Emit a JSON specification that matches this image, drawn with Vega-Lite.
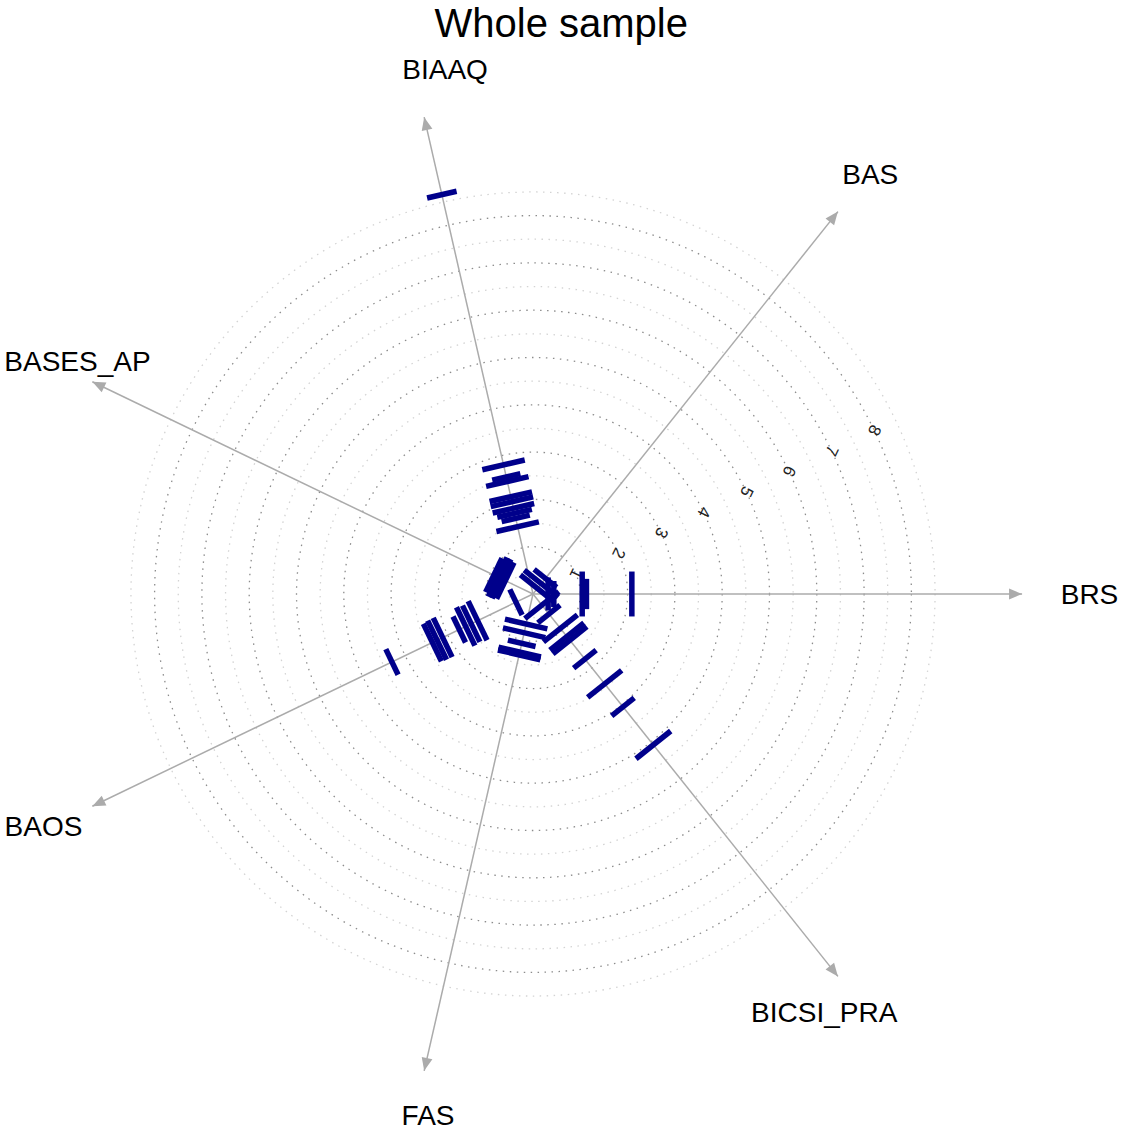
{
  "$schema": "https://vega.github.io/schema/vega-lite/v6.json",
  "width": 1042,
  "height": 1042,
  "autosize": {"type": "none"},
  "padding": {"left": 12, "top": 73, "right": 67, "bottom": 18},
  "background": "white",
  "config": {"view": {"stroke": null}, "font": "Liberation Sans"},
  "title": {
    "text": "Whole sample",
    "fontSize": 40,
    "fontWeight": "normal",
    "color": "#000000",
    "anchor": "middle",
    "frame": "bounds",
    "offset": 12
  },
  "datasets": {
    "spokes": [
      {"scale": "BRS", "k": 0},
      {"scale": "BAS", "k": 1},
      {"scale": "BIAAQ", "k": 2},
      {"scale": "BASES_AP", "k": 3},
      {"scale": "BAOS", "k": 4},
      {"scale": "FAS", "k": 5},
      {"scale": "BICSI_PRA", "k": 6}
    ],
    "rings": [
      {"r": 0.5, "kind": "minor"}, {"r": 1, "kind": "major"},
      {"r": 1.5, "kind": "minor"}, {"r": 2, "kind": "major"},
      {"r": 2.5, "kind": "minor"}, {"r": 3, "kind": "major"},
      {"r": 3.5, "kind": "minor"}, {"r": 4, "kind": "major"},
      {"r": 4.5, "kind": "minor"}, {"r": 5, "kind": "major"},
      {"r": 5.5, "kind": "minor"}, {"r": 6, "kind": "major"},
      {"r": 6.5, "kind": "minor"}, {"r": 7, "kind": "major"},
      {"r": 7.5, "kind": "minor"}, {"r": 8, "kind": "major"},
      {"r": 8.5, "kind": "minor"}
    ],
    "ticks": [
      {"scale": "BRS", "d": 0.32, "len": 0.70},
      {"scale": "BRS", "d": 0.44, "len": 0.55},
      {"scale": "BRS", "d": 1.04, "len": 0.95},
      {"scale": "BRS", "d": 1.13, "len": 0.64},
      {"scale": "BRS", "d": 2.09, "len": 0.95},
      {"scale": "BAS", "d": 0.15, "len": 0.92},
      {"scale": "BAS", "d": 0.28, "len": 0.92},
      {"scale": "BAS", "d": 0.42, "len": 0.61},
      {"scale": "BIAAQ", "d": 1.46, "len": 0.92},
      {"scale": "BIAAQ", "d": 1.64, "len": 0.61},
      {"scale": "BIAAQ", "d": 1.75, "len": 0.75},
      {"scale": "BIAAQ", "d": 1.86, "len": 0.90},
      {"scale": "BIAAQ", "d": 2.00, "len": 0.92},
      {"scale": "BIAAQ", "d": 2.11, "len": 0.92},
      {"scale": "BIAAQ", "d": 2.44, "len": 0.92},
      {"scale": "BIAAQ", "d": 2.54, "len": 0.61},
      {"scale": "BIAAQ", "d": 2.80, "len": 0.92},
      {"scale": "BIAAQ", "d": 8.66, "len": 0.64},
      {"scale": "BASES_AP", "d": 0.65, "len": 0.85},
      {"scale": "BASES_AP", "d": 0.74, "len": 0.92},
      {"scale": "BASES_AP", "d": 0.83, "len": 0.92},
      {"scale": "BASES_AP", "d": 0.92, "len": 0.80},
      {"scale": "BAOS", "d": 0.40, "len": 0.60},
      {"scale": "BAOS", "d": 1.30, "len": 0.92},
      {"scale": "BAOS", "d": 1.45, "len": 0.85},
      {"scale": "BAOS", "d": 1.58, "len": 0.90},
      {"scale": "BAOS", "d": 1.73, "len": 0.61},
      {"scale": "BAOS", "d": 2.12, "len": 0.92},
      {"scale": "BAOS", "d": 2.25, "len": 0.92},
      {"scale": "BAOS", "d": 2.36, "len": 0.88},
      {"scale": "BAOS", "d": 3.31, "len": 0.60},
      {"scale": "FAS", "d": 0.65, "len": 0.92},
      {"scale": "FAS", "d": 0.84, "len": 0.92},
      {"scale": "FAS", "d": 1.07, "len": 0.60},
      {"scale": "FAS", "d": 1.26, "len": 0.92},
      {"scale": "FAS", "d": 1.32, "len": 0.92},
      {"scale": "BICSI_PRA", "d": 0.30, "len": 0.92},
      {"scale": "BICSI_PRA", "d": 0.54, "len": 0.60},
      {"scale": "BICSI_PRA", "d": 0.93, "len": 0.92},
      {"scale": "BICSI_PRA", "d": 1.15, "len": 0.92},
      {"scale": "BICSI_PRA", "d": 1.25, "len": 0.92},
      {"scale": "BICSI_PRA", "d": 1.76, "len": 0.61},
      {"scale": "BICSI_PRA", "d": 2.43, "len": 0.92},
      {"scale": "BICSI_PRA", "d": 3.05, "len": 0.61},
      {"scale": "BICSI_PRA", "d": 4.08, "len": 0.94}
    ]
  },
  "layer": [
    {
      "data": {"name": "rings"},
      "mark": {"type": "point", "shape": "circle", "filled": false, "strokeWidth": 1.3, "strokeDash": [1.5, 5.5], "opacity": 1},
      "encoding": {
        "x": {"datum": 0, "type": "quantitative", "scale": {"domain": [-11.0148, 11.0148], "nice": false, "zero": false}, "axis": null},
        "y": {"datum": 0, "type": "quantitative", "scale": {"domain": [-11.0148, 11.0148], "nice": false, "zero": false}, "axis": null},
        "size": {"field": "r", "type": "quantitative", "scale": {"type": "pow", "exponent": 2, "domain": [0, 11.0148], "range": [0, 1085764], "zero": true, "nice": false}, "legend": null},
        "stroke": {"field": "kind", "type": "nominal", "scale": {"domain": ["major", "minor"], "range": ["#8c8c8c", "#d3d3d3"]}, "legend": null}
      }
    },
    {
      "data": {"name": "rings"},
      "transform": [
        {"filter": "datum.kind === 'major'"},
        {"calculate": "datum.r * cos(PI / 7)", "as": "lx"},
        {"calculate": "datum.r * sin(PI / 7)", "as": "ly"}
      ],
      "mark": {"type": "text", "angle": 115.71, "fontSize": 17, "color": "#222222", "align": "center", "baseline": "middle"},
      "encoding": {
        "x": {"field": "lx", "type": "quantitative", "scale": {"domain": [-11.0148, 11.0148], "nice": false, "zero": false}, "axis": null},
        "y": {"field": "ly", "type": "quantitative", "scale": {"domain": [-11.0148, 11.0148], "nice": false, "zero": false}, "axis": null},
        "text": {"field": "r", "type": "quantitative"}
      }
    },
    {
      "data": {"name": "spokes"},
      "transform": [
        {"calculate": "0", "as": "ox"},
        {"calculate": "10.34 * cos(datum.k * 2 * PI / 7)", "as": "ex"},
        {"calculate": "10.34 * sin(datum.k * 2 * PI / 7)", "as": "ey"}
      ],
      "mark": {"type": "rule", "color": "#ababab", "strokeWidth": 1.5},
      "encoding": {
        "x": {"field": "ox", "type": "quantitative", "scale": {"domain": [-11.0148, 11.0148], "nice": false, "zero": false}, "axis": null},
        "y": {"field": "ox", "type": "quantitative", "scale": {"domain": [-11.0148, 11.0148], "nice": false, "zero": false}, "axis": null},
        "x2": {"field": "ex"},
        "y2": {"field": "ey"}
      }
    },
    {
      "data": {"name": "spokes"},
      "transform": [
        {"calculate": "10.34 * cos(datum.k * 2 * PI / 7)", "as": "ex"},
        {"calculate": "10.34 * sin(datum.k * 2 * PI / 7)", "as": "ey"},
        {"calculate": "90 - datum.k * 360 / 7", "as": "rot"}
      ],
      "mark": {"type": "point", "shape": "M0,0L-0.42,1L0.42,1Z", "filled": true, "color": "#ababab", "opacity": 1, "size": 676},
      "encoding": {
        "x": {"field": "ex", "type": "quantitative", "scale": {"domain": [-11.0148, 11.0148], "nice": false, "zero": false}, "axis": null},
        "y": {"field": "ey", "type": "quantitative", "scale": {"domain": [-11.0148, 11.0148], "nice": false, "zero": false}, "axis": null},
        "angle": {"field": "rot", "type": "quantitative", "scale": null}
      }
    },
    {
      "data": {"name": "ticks"},
      "transform": [
        {"lookup": "scale", "from": {"data": {"name": "spokes"}, "key": "scale", "fields": ["k"]}},
        {"calculate": "datum.k * 2 * PI / 7", "as": "a"},
        {"calculate": "datum.d * cos(datum.a) + datum.len / 2 * sin(datum.a)", "as": "x1"},
        {"calculate": "datum.d * sin(datum.a) - datum.len / 2 * cos(datum.a)", "as": "y1"},
        {"calculate": "datum.d * cos(datum.a) - datum.len / 2 * sin(datum.a)", "as": "x2"},
        {"calculate": "datum.d * sin(datum.a) + datum.len / 2 * cos(datum.a)", "as": "y2"}
      ],
      "mark": {"type": "rule", "color": "#00008B", "strokeWidth": 5.5, "strokeCap": "butt"},
      "encoding": {
        "x": {"field": "x1", "type": "quantitative", "scale": {"domain": [-11.0148, 11.0148], "nice": false, "zero": false}, "axis": null},
        "y": {"field": "y1", "type": "quantitative", "scale": {"domain": [-11.0148, 11.0148], "nice": false, "zero": false}, "axis": null},
        "x2": {"field": "x2"},
        "y2": {"field": "y2"}
      }
    },
    {
      "data": {"name": "spokes"},
      "transform": [
        {"calculate": "11.3 * cos(datum.k * 2 * PI / 7)", "as": "lx"},
        {"calculate": "11.3 * sin(datum.k * 2 * PI / 7)", "as": "ly"}
      ],
      "mark": {
        "type": "text",
        "fontSize": 28,
        "color": "#000000",
        "align": "center",
        "baseline": "middle",
        "dx": {"expr": "datum.scale === 'BRS' ? 22 : datum.scale === 'BAS' ? 4 : datum.scale === 'BIAAQ' ? 31 : datum.scale === 'BASES_AP' ? 26 : datum.scale === 'BAOS' ? -8 : datum.scale === 'FAS' ? 14 : -42"},
        "dy": {"expr": "datum.scale === 'BIAAQ' ? -2 : datum.scale === 'BAS' ? 0 : datum.scale === 'BASES_AP' ? 1 : 2"}
      },
      "encoding": {
        "x": {"field": "lx", "type": "quantitative", "scale": {"domain": [-11.0148, 11.0148], "nice": false, "zero": false}, "axis": null},
        "y": {"field": "ly", "type": "quantitative", "scale": {"domain": [-11.0148, 11.0148], "nice": false, "zero": false}, "axis": null},
        "text": {"field": "scale", "type": "nominal"}
      }
    }
  ]
}
